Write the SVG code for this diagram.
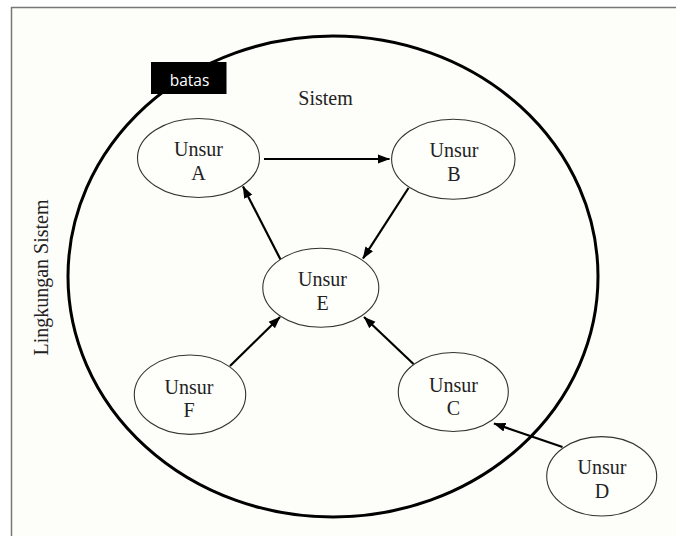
<svg xmlns="http://www.w3.org/2000/svg" width="676" height="536" viewBox="0 0 676 536">
<defs>
<marker id="ah" markerUnits="userSpaceOnUse" markerWidth="12" markerHeight="10" viewBox="0 0 12 10" refX="11.5" refY="5" orient="auto">
<path d="M0,0.5 L12,5 L0,9.5 Z" fill="#000"/>
</marker>
<style>
.node ellipse{fill:#fefefb;stroke:#333;stroke-width:1.1}
.lbl{font-family:"Liberation Serif","Times New Roman",serif;font-size:20px;fill:#222;text-anchor:middle}
.conn line{stroke:#000;stroke-width:2.2;marker-end:url(#ah)}
</style>
</defs>
<rect x="0" y="0" width="676" height="536" fill="#fff"/>
<rect x="11" y="7" width="665" height="529" fill="#fdfdf9"/>
<line x1="11.5" y1="7" x2="11.5" y2="536" stroke="#777" stroke-width="1.5"/>
<line x1="11" y1="7.5" x2="676" y2="7.5" stroke="#777" stroke-width="1.5"/>

<g id="boundary">
<ellipse cx="333" cy="276.5" rx="265" ry="240.5" fill="none" stroke="#000" stroke-width="3"/>
</g>
<g id="batas">
<rect x="151" y="62" width="75.5" height="32" fill="#000"/>
<text x="189.5" y="86" font-family="'Open Sans','Liberation Sans',sans-serif" font-size="15.5" fill="#fff" text-anchor="middle">batas</text>
</g>
<g id="sistem-label">
<text class="lbl" x="325.5" y="105">Sistem</text>
</g>
<g id="lingkungan-label">
<text class="lbl" transform="translate(47.5,277.5) rotate(-90)">Lingkungan Sistem</text>
</g>

<g id="connectors" class="conn">
<line x1="264" y1="159" x2="389.5" y2="159"/>
<line x1="280.5" y1="259.5" x2="243" y2="186.5"/>
<line x1="408.5" y1="188" x2="363" y2="258.5"/>
<line x1="230" y1="366" x2="280" y2="317"/>
<line x1="413.5" y1="364" x2="364" y2="317"/>
<line x1="562.5" y1="447" x2="494" y2="423.5"/>
</g>

<g id="unsur-a" class="node">
<ellipse cx="198.5" cy="158" rx="61" ry="39.5"/>
<text class="lbl" x="198.5" y="156">Unsur</text>
<text class="lbl" x="198.5" y="179.5">A</text>
</g>
<g id="unsur-b" class="node">
<ellipse cx="453.3" cy="159.3" rx="61.7" ry="40"/>
<text class="lbl" x="454" y="156.7">Unsur</text>
<text class="lbl" x="454" y="180.7">B</text>
</g>
<g id="unsur-e" class="node">
<ellipse cx="320.8" cy="287.8" rx="58" ry="39.5"/>
<text class="lbl" x="322.5" y="285.5">Unsur</text>
<text class="lbl" x="322.5" y="309.5">E</text>
</g>
<g id="unsur-f" class="node">
<ellipse cx="190" cy="394.7" rx="55.7" ry="39.7"/>
<text class="lbl" x="189" y="393.5">Unsur</text>
<text class="lbl" x="189" y="416.5">F</text>
</g>
<g id="unsur-c" class="node">
<ellipse cx="453.3" cy="392" rx="55" ry="39.5"/>
<text class="lbl" x="453.5" y="391.5">Unsur</text>
<text class="lbl" x="453.5" y="414.5">C</text>
</g>
<g id="unsur-d" class="node">
<ellipse cx="601.7" cy="476.3" rx="55" ry="39.7"/>
<text class="lbl" x="602" y="474">Unsur</text>
<text class="lbl" x="602" y="497.5">D</text>
</g>
</svg>
